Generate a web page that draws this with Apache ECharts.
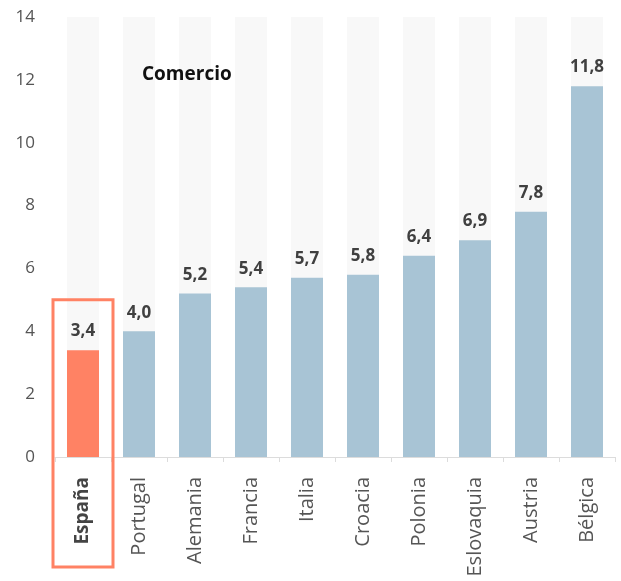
<!DOCTYPE html>
<html>
<head>
<meta charset="utf-8">
<script src="https://cdn.jsdelivr.net/npm/echarts@6/dist/echarts.min.js"></script>
<style>
  html, body { margin: 0; padding: 0; background: #fff; }
  #chart { width: 621px; height: 581px; }
</style>
</head>
<body>
<div id="chart"></div>
<script>
// Countries and their values
var categories = ['España', 'Portugal', 'Alemania', 'Francia', 'Italia', 'Croacia', 'Polonia', 'Eslovaquia', 'Austria', 'Bélgica'];
var values = [3.4, 4.0, 5.2, 5.4, 5.7, 5.8, 6.4, 6.9, 7.8, 11.8];
var yTicks = [0, 2, 4, 6, 8, 10, 12, 14];
var highlight = 'España';
var titleText = 'Comercio';

var FONT = '"Open Sans", Lato, sans-serif';
var chart = echarts.init(document.getElementById('chart'), null, { renderer: 'canvas' });

var seriesData = values.map(function (v, i) {
  return {
    value: v,
    itemStyle: { color: categories[i] === highlight ? '#ff8264' : '#a8c4d5' }
  };
});

chart.setOption({
  animation: false,
  title: {
    text: titleText,
    left: 137,
    top: 60,
    textStyle: { fontFamily: FONT, fontSize: 19, fontWeight: 'bold', color: '#111' }
  },
  grid: { left: 55, right: 6, top: 17, bottom: 124, containLabel: false },
  xAxis: {
    type: 'category',
    data: categories,
    axisLine: { lineStyle: { color: '#dcdcdc', width: 1 } },
    axisTick: { show: true, length: 5, lineStyle: { color: '#dcdcdc' } },
    axisLabel: {
      rotate: 90,
      margin: 20,
      fontFamily: FONT,
      fontSize: 20,
      color: '#555',
      formatter: function (v) { return v === highlight ? '{b|' + v + '}' : v; },
      rich: { b: { fontFamily: FONT, fontSize: 19, fontWeight: 'bold', color: '#444' } }
    }
  },
  yAxis: {
    type: 'value',
    min: yTicks[0],
    max: yTicks[yTicks.length - 1],
    interval: yTicks[1] - yTicks[0],
    axisLine: { show: false },
    axisTick: { show: false },
    splitLine: { show: false },
    axisLabel: { fontFamily: FONT, fontSize: 17, color: '#555', margin: 20 }
  },
  series: [{
    type: 'bar',
    data: seriesData,
    barWidth: 32,
    showBackground: true,
    backgroundStyle: { color: '#f8f8f8' },
    label: {
      show: true,
      position: 'top',
      distance: 10,
      fontFamily: FONT,
      fontSize: 17,
      fontWeight: 'bold',
      color: '#404040',
      formatter: function (p) { return p.value.toFixed(1).replace('.', ','); }
    }
  }]
});

// Outline around the highlighted category, placed from the axis scales
var idx = categories.indexOf(highlight);
var topPt = chart.convertToPixel({ seriesIndex: 0 }, [idx, 5]);
var basePt = chart.convertToPixel({ seriesIndex: 0 }, [idx, 0]);
var halfW = 30;
chart.setOption({
  graphic: [{
    type: 'rect',
    shape: {
      x: topPt[0] - halfW,
      y: topPt[1],
      width: halfW * 2,
      height: (basePt[1] - topPt[1]) + 110
    },
    style: { fill: 'none', stroke: '#ff8264', lineWidth: 3 },
    z: 10
  }]
});
</script>
</body>
</html>
